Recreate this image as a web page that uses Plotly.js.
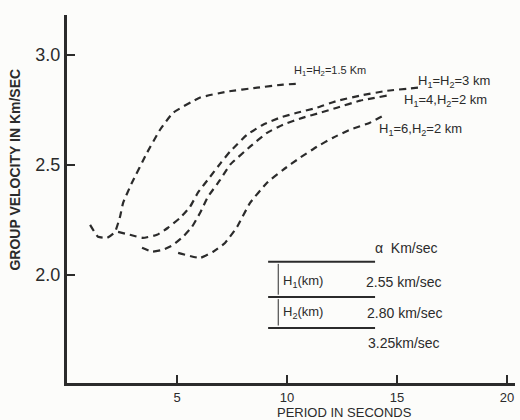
<!DOCTYPE html>
<html>
<head>
<meta charset="utf-8">
<script src="https://cdn.plot.ly/plotly-3.0.1.min.js"></script>
<style>html,body{margin:0;padding:0;background:#fcfcfa;}#chart{width:520px;height:420px;}</style>
</head>
<body>
<div id="chart"></div>
<script>
// Period (s) and group velocity (km/s)
const period_15 = [1.05, 1.41, 1.82, 2.18, 2.41, 2.55, 2.95, 3.64, 4.23, 4.82, 6.05, 7.27, 8.64, 9.82, 10.6];
const vel_15    = [2.227, 2.173, 2.168, 2.195, 2.264, 2.327, 2.418, 2.555, 2.659, 2.736, 2.805, 2.832, 2.85, 2.864, 2.868];

const period_3 = [2.32, 2.86, 3.45, 4.09, 4.59, 5.14, 5.59, 5.95, 6.5, 7.0, 7.41, 8.18, 8.91, 9.68, 10.45, 11.36, 12.27, 13.32, 14.55, 15.95];
const vel_3    = [2.195, 2.182, 2.168, 2.182, 2.214, 2.259, 2.309, 2.373, 2.445, 2.51, 2.56, 2.636, 2.682, 2.714, 2.736, 2.759, 2.79, 2.814, 2.836, 2.85];

const period_42 = [3.41, 3.86, 4.36, 4.82, 5.27, 5.68, 6.05, 6.41, 6.95, 7.41, 8.32, 9.09, 9.82, 10.73, 11.5, 12.27, 13.32, 14.55];
const vel_42    = [2.123, 2.105, 2.114, 2.136, 2.173, 2.218, 2.282, 2.355, 2.43, 2.5, 2.582, 2.645, 2.682, 2.714, 2.736, 2.759, 2.791, 2.814];

const period_62 = [5.05, 6.05, 6.64, 7.18, 7.73, 8.32, 9.09, 9.82, 10.59, 11.36, 12.09, 12.86, 13.77, 14.45];
const vel_62    = [2.1, 2.077, 2.105, 2.145, 2.218, 2.327, 2.418, 2.477, 2.532, 2.582, 2.623, 2.659, 2.691, 2.727];

const curveNames = ["H<sub>1</sub>=H<sub>2</sub>=1.5 Km", "H<sub>1</sub>=H<sub>2</sub>=3 km", "H<sub>1</sub>=4,H<sub>2</sub>=2 km", "H<sub>1</sub>=6,H<sub>2</sub>=2 km"];

const xTickVals = [5, 10, 15, 20];
const xTickText = ["5", "10", "15", "20"];
const yTickVals = [2.0, 2.5, 3.0];
const yTickText = ["2.0", "2.5", "3.0"];

const alphaHeader = "α  Km/sec";
const layerLabels = ["H<sub>1</sub>(km)", "H<sub>2</sub>(km)"];
const alphaValues = ["2.55 km/sec", "2.80 km/sec", "3.25km/sec"];

const ink = "#2b2b2b";
const font = "Liberation Sans, Arial, sans-serif";

function curve(x, y, name) {
  return {x: x, y: y, name: name, type: "scatter", mode: "lines",
          line: {color: ink, width: 2.2, dash: "7px,5px", shape: "spline", smoothing: 0.4},
          hoverinfo: "skip"};
}

const data = [
  curve(period_15, vel_15, curveNames[0]),
  curve(period_3, vel_3, curveNames[1]),
  curve(period_42, vel_42, curveNames[2]),
  curve(period_62, vel_62, curveNames[3])
];

const ann = [];
function txt(x, y, text, size, opts) {
  ann.push(Object.assign({x: x, y: y, xref: "x", yref: "y", text: text, showarrow: false,
    xanchor: "center", yanchor: "middle",
    font: {family: font, size: size, color: ink}}, opts || {}));
}
// curve labels
txt(11.95, 2.925, curveNames[0], 11);
txt(17.6, 2.877, curveNames[1], 13);
txt(17.2, 2.791, curveNames[2], 13);
txt(16.05, 2.659, curveNames[3], 13);
// layer table
txt(15.45, 2.123, alphaHeader, 14);
txt(10.73, 1.968, layerLabels[0], 13);
txt(10.73, 1.827, layerLabels[1], 13);
txt(15.3, 1.968, alphaValues[0], 14);
txt(15.36, 1.827, alphaValues[1], 14);
txt(15.3, 1.691, alphaValues[2], 14);
// axis titles
ann.push({xref: "paper", yref: "paper", x: -0.116, y: 0.58, xanchor: "center", yanchor: "middle",
  textangle: -90, showarrow: false,
  text: "GROUP VELOCITY IN Km/SEC", font: {family: font, size: 14, color: ink, weight: "bold"}});
ann.push({xref: "paper", yref: "paper", x: 0.62, y: -0.081, xanchor: "center", yanchor: "middle", showarrow: false,
  text: "PERIOD IN SECONDS", font: {family: font, size: 13, color: ink}});

const lineStyle = {color: ink, width: 2};
const shapes = [
  {type: "line", xref: "x", yref: "y", x0: 9.14, x1: 14.0, y0: 2.059, y1: 2.059, line: lineStyle},
  {type: "line", xref: "x", yref: "y", x0: 9.14, x1: 14.0, y0: 1.9, y1: 1.9, line: lineStyle},
  {type: "line", xref: "x", yref: "y", x0: 9.14, x1: 14.0, y0: 1.759, y1: 1.759, line: lineStyle},
  {type: "line", xref: "x", yref: "y", x0: 9.6, x1: 9.6, y0: 2.05, y1: 1.91, line: {color: ink, width: 1}},
  {type: "line", xref: "x", yref: "y", x0: 9.6, x1: 9.6, y0: 1.89, y1: 1.77, line: {color: ink, width: 1}}
];

const layout = {
  width: 520, height: 420,
  margin: {l: 67, r: 5, t: 15, b: 37},
  paper_bgcolor: "#fcfcfa", plot_bgcolor: "#fcfcfa",
  showlegend: false,
  font: {family: font, color: ink},
  xaxis: {range: [0, 20.36], showgrid: false, zeroline: false, showline: true, linecolor: ink, linewidth: 3,
          ticks: "inside", ticklen: 8, tickwidth: 2, tickcolor: ink,
          tickvals: xTickVals, ticktext: xTickText, tickfont: {size: 13, family: font, color: ink}},
  yaxis: {range: [1.509, 3.18], showgrid: false, zeroline: false, showline: true, linecolor: ink, linewidth: 3,
          ticks: "inside", ticklen: 8, tickwidth: 2, tickcolor: ink,
          tickvals: yTickVals, ticktext: yTickText, tickfont: {size: 18, family: font, color: ink}},
  annotations: ann,
  shapes: shapes
};

Plotly.newPlot("chart", data, layout, {displayModeBar: false, staticPlot: true});
</script>
</body>
</html>
